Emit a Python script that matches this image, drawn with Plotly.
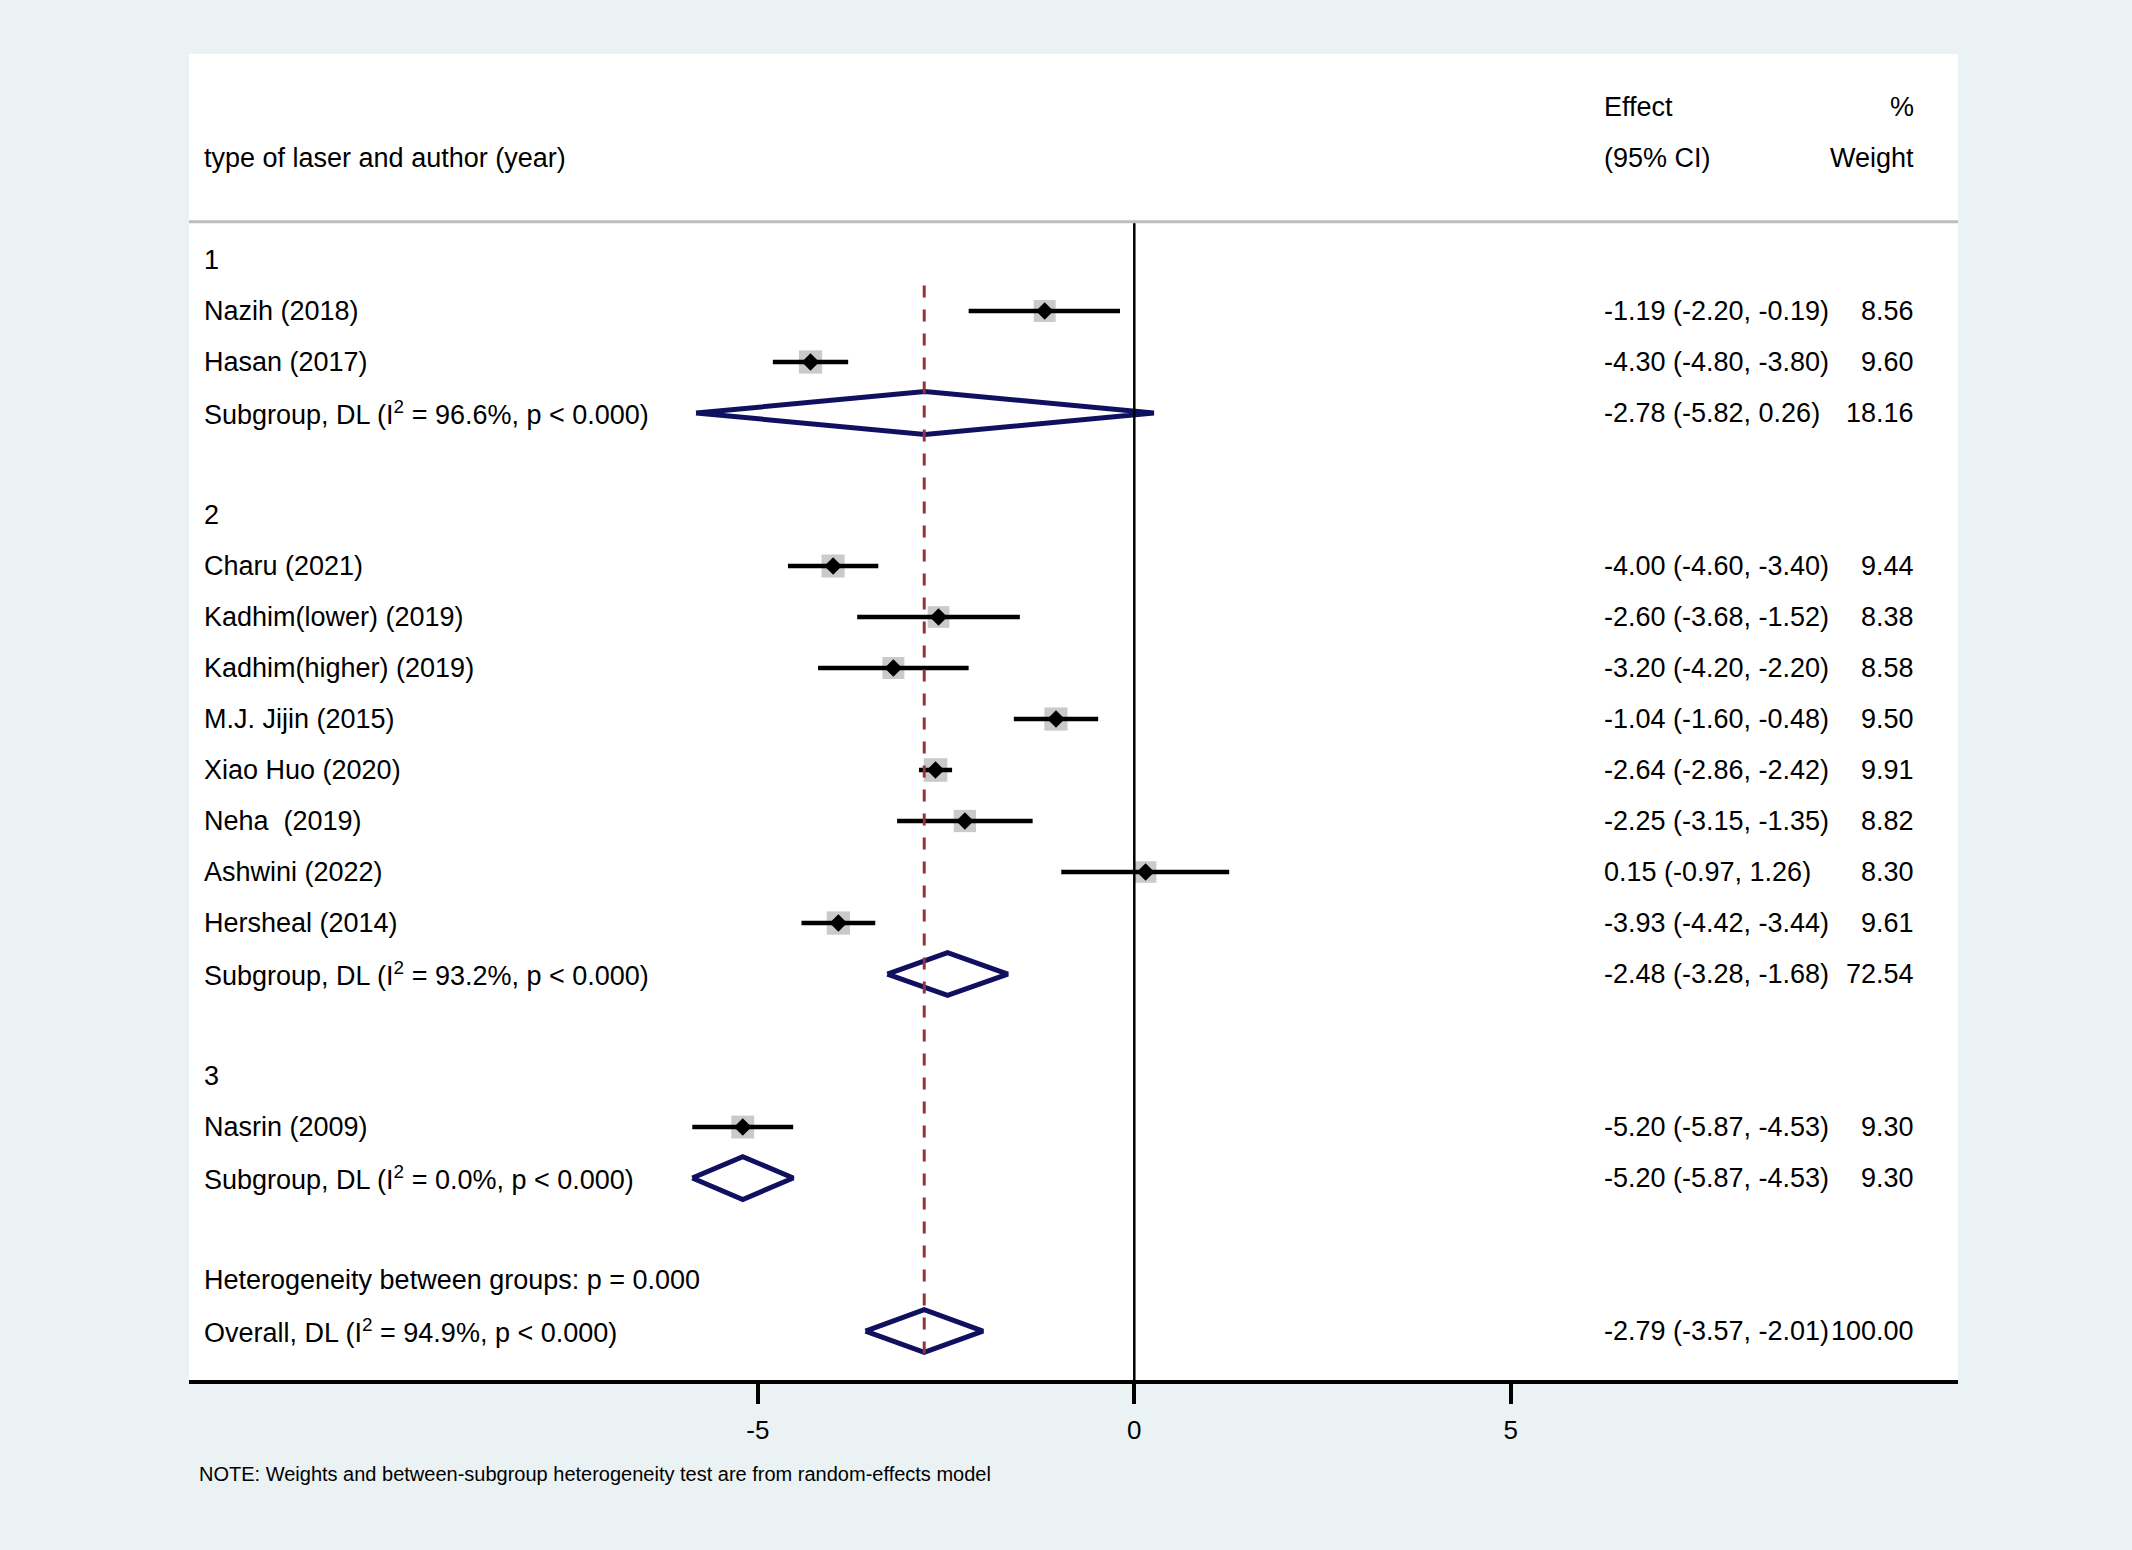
import plotly.graph_objects as go

# ---- data ----
group_names = ["1", "2", "3"]

study_labels = ["Nazih (2018)", "Hasan (2017)",
                "Charu (2021)", "Kadhim(lower) (2019)", "Kadhim(higher) (2019)",
                "M.J. Jijin (2015)", "Xiao Huo (2020)", "Neha  (2019)",
                "Ashwini (2022)", "Hersheal (2014)",
                "Nasrin (2009)"]
study_group = [1, 1, 2, 2, 2, 2, 2, 2, 2, 2, 3]
study_es = [-1.19, -4.30, -4.00, -2.60, -3.20, -1.04, -2.64, -2.25, 0.15, -3.93, -5.20]
study_lo = [-2.20, -4.80, -4.60, -3.68, -4.20, -1.60, -2.86, -3.15, -0.97, -4.42, -5.87]
study_hi = [-0.19, -3.80, -3.40, -1.52, -2.20, -0.48, -2.42, -1.35, 1.26, -3.44, -4.53]
study_wt = [8.56, 9.60, 9.44, 8.38, 8.58, 9.50, 9.91, 8.82, 8.30, 9.61, 9.30]

sub_es = [-2.78, -2.48, -5.20]
sub_lo = [-5.82, -3.28, -5.87]
sub_hi = [0.26, -1.68, -4.53]
sub_wt = [18.16, 72.54, 9.30]
sub_i2 = [96.6, 93.2, 0.0]

overall_es = -2.79
overall_lo = -3.57
overall_hi = -2.01
overall_wt = 100.00
overall_i2 = 94.9
het_p = 0.000

tick_vals = [-5, 0, 5]

# ---- look ----
FONT = "Arial, Liberation Sans, sans-serif"
FS = 27
NAVY = "#101060"
MAROON = "#90353B"
BOXGRAY = "#B4B4B4"
BG = "#EAF2F3"

X_LABEL = -12.364   # left edge of the label column
X_EFFECT = 6.228    # left edge of effect column
X_WEIGHT = 10.368   # right edge of weight column
DH = 0.42           # half height of pooled diamonds (rows)


def effect_text(es, lo, hi):
    return f"{es:.2f} ({lo:.2f}, {hi:.2f})"


# lay out rows
study_rows, sub_rows, group_rows = [], [], []
row = 0
for gi, g in enumerate(group_names):
    group_rows.append(row)
    row += 1
    for si in range(len(study_labels)):
        if study_group[si] == gi + 1:
            study_rows.append(row)
            row += 1
    sub_rows.append(row)
    row += 2
het_row = row
overall_row = row + 1

fig = go.Figure()

# weight boxes
fig.add_trace(go.Scatter(
    x=study_es, y=study_rows, mode="markers",
    marker=dict(symbol="square", color=BOXGRAY,
                size=[7.5 * w ** 0.5 for w in study_wt], line=dict(width=0)),
    hoverinfo="skip", showlegend=False))

# confidence intervals
ci_x, ci_y = [], []
for lo, hi, r in zip(study_lo, study_hi, study_rows):
    ci_x += [lo, hi, None]
    ci_y += [r, r, None]
fig.add_trace(go.Scatter(x=ci_x, y=ci_y, mode="lines",
                         line=dict(color="black", width=4.6),
                         hoverinfo="skip", showlegend=False))

# point estimates
fig.add_trace(go.Scatter(
    x=study_es, y=study_rows, mode="markers",
    marker=dict(symbol="diamond", color="black", size=13.5),
    hoverinfo="skip", showlegend=False))

# pooled diamonds
dx, dy = [], []
pooled = list(zip(sub_es, sub_lo, sub_hi, sub_rows)) + [(overall_es, overall_lo, overall_hi, overall_row)]
for es, lo, hi, r in pooled:
    dx += [lo, es, hi, es, lo, None]
    dy += [r, r - DH, r, r + DH, r, None]
fig.add_trace(go.Scatter(x=dx, y=dy, mode="lines",
                         line=dict(color=NAVY, width=5),
                         hoverinfo="skip", showlegend=False))

# overall effect line
fig.add_trace(go.Scatter(x=[overall_es, overall_es], y=[0.5, overall_row + 0.5],
                         mode="lines",
                         line=dict(color=MAROON, width=3, dash="12px,12px"),
                         hoverinfo="skip", showlegend=False))

# null line and header rule
fig.add_shape(type="line", xref="x", yref="y", x0=0, x1=0, y0=-0.75, y1=21.96,
              line=dict(color="black", width=2.5))
fig.add_shape(type="line", xref="paper", yref="y", x0=0, x1=1, y0=-0.75, y1=-0.75,
              line=dict(color="#BEBEBE", width=3))


def txt(x, y, s, anchor="left", size=FS):
    fig.add_annotation(x=x, y=y, xref="x", yref="y", text=s, showarrow=False,
                       xanchor=anchor, yanchor="middle", borderpad=0,
                       font=dict(family=FONT, size=size, color="black"))


# header
txt(X_EFFECT, -3, "Effect")
txt(X_WEIGHT, -3, "%", "right")
txt(X_LABEL, -2, "type of laser and author (year)")
txt(X_EFFECT, -2, "(95% CI)")
txt(X_WEIGHT, -2, "Weight", "right")

for g, r in zip(group_names, group_rows):
    txt(X_LABEL, r, g)

for lab, es, lo, hi, w, r in zip(study_labels, study_es, study_lo, study_hi, study_wt, study_rows):
    txt(X_LABEL, r, lab.replace("  ", "&nbsp; "))
    txt(X_EFFECT, r, effect_text(es, lo, hi))
    txt(X_WEIGHT, r, f"{w:.2f}", "right")

for es, lo, hi, w, i2, r in zip(sub_es, sub_lo, sub_hi, sub_wt, sub_i2, sub_rows):
    txt(X_LABEL, r, f"Subgroup, DL (I<sup>2</sup> = {i2:.1f}%, p &lt; 0.000)")
    txt(X_EFFECT, r, effect_text(es, lo, hi))
    txt(X_WEIGHT, r, f"{w:.2f}", "right")

txt(X_LABEL, het_row, f"Heterogeneity between groups: p = {het_p:.3f}")
txt(X_LABEL, overall_row, f"Overall, DL (I<sup>2</sup> = {overall_i2:.1f}%, p &lt; 0.000)")
txt(X_EFFECT, overall_row, effect_text(overall_es, overall_lo, overall_hi))
txt(X_WEIGHT, overall_row, f"{overall_wt:.2f}", "right")

fig.add_annotation(x=-12.43, y=-0.0708, xref="x", yref="paper", showarrow=False,
                   text="NOTE: Weights and between-subgroup heterogeneity test are from random-effects model",
                   xanchor="left", yanchor="middle", borderpad=0,
                   font=dict(family=FONT, size=20, color="black"))

fig.update_xaxes(range=[-12.554, 10.939], tickvals=tick_vals,
                 ticktext=[str(v) for v in tick_vals],
                 ticks="outside", ticklen=20, tickwidth=3.5, tickcolor="black",
                 ticklabelstandoff=4,
                 showline=True, linecolor="black", linewidth=3.5,
                 showgrid=False, zeroline=False,
                 tickfont=dict(family=FONT, size=26, color="black"))
fig.update_yaxes(range=[21.96, -4.039], visible=False, showgrid=False, zeroline=False)

fig.update_layout(width=2132, height=1550,
                  margin=dict(l=189, r=174, t=54, b=170),
                  paper_bgcolor=BG, plot_bgcolor="white",
                  showlegend=False)

# drop the page margin so the figure sits at the window corner
fig.write_html("out.html", config={"displayModeBar": False},
               post_script="document.body.style.margin='0';"
                           "document.body.style.background='" + BG + "';")
